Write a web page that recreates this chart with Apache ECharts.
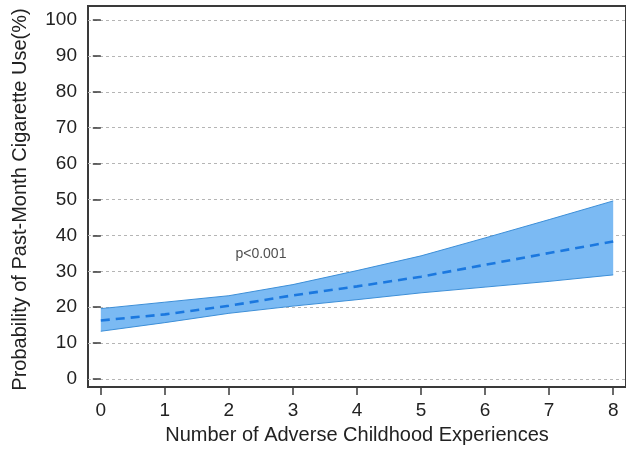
<!DOCTYPE html>
<html>
<head>
<meta charset="utf-8">
<script src="https://cdn.jsdelivr.net/npm/echarts@6/dist/echarts.min.js"></script>
<style>
  html, body { margin: 0; padding: 0; background: #fff; }
  #chart { width: 626px; height: 450px; }
</style>
</head>
<body>
<div id="chart"></div>
<script>
// Predicted probability of past-month cigarette use by ACE count
const aceCounts = [0, 1, 2, 3, 4, 5, 6, 7, 8];
const predicted = [16.3, 18.0, 20.4, 23.3, 25.8, 28.5, 31.8, 35.1, 38.3];
const ciLower   = [13.3, 15.7, 18.3, 20.3, 22.1, 24.0, 25.6, 27.2, 29.0];
const ciUpper   = [19.6, 21.4, 23.2, 26.3, 30.2, 34.3, 39.3, 44.4, 49.6];
const yTicks = [0, 10, 20, 30, 40, 50, 60, 70, 80, 90, 100];
const xTicks = [0, 1, 2, 3, 4, 5, 6, 7, 8];
const annotation = { x: 2.5, y: 34.8, text: 'p<0.001' };

const FONT = "'Liberation Sans', Arial, Helvetica, sans-serif";
const pairs = (ys) => aceCounts.map((x, i) => [x, ys[i]]);

// Confidence band: one polygon along the upper bound, back along the lower bound
function renderBand(params, api) {
  const pts = [];
  aceCounts.forEach((x, i) => pts.push(api.coord([x, ciUpper[i]])));
  for (let i = aceCounts.length - 1; i >= 0; i--) pts.push(api.coord([aceCounts[i], ciLower[i]]));
  return {
    type: 'polygon',
    shape: { points: pts },
    style: { fill: '#7bbaf3', stroke: null }
  };
}

const chart = echarts.init(document.getElementById('chart'), null, { renderer: 'canvas' });
chart.setOption({
  backgroundColor: '#fff',
  animation: false,
  grid: [
    // plotting area, 0–100 %
    { left: 88, right: -5, top: 20, bottom: 71, show: false },
    // outer frame of the plot region
    { left: 88, right: -5, top: 6, bottom: 58, show: true,
      borderColor: '#3a3a3a', borderWidth: 2, backgroundColor: 'transparent' }
  ],
  xAxis: [
    { gridIndex: 0, type: 'value', min: -0.2, max: 8.2, show: false },
    {
      gridIndex: 1, type: 'value', min: -0.2, max: 8.2,
      axisLine: { show: true, lineStyle: { color: '#3a3a3a', width: 2 } },
      axisTick: { show: true, customValues: xTicks, length: 8, lineStyle: { color: '#3a3a3a', width: 1.5 } },
      axisLabel: { show: true, customValues: xTicks, margin: 14, fontSize: 19, color: '#222', fontFamily: FONT },
      splitLine: { show: false },
      name: 'Number of Adverse Childhood Experiences',
      nameLocation: 'middle', nameGap: 35,
      nameTextStyle: { fontSize: 20, color: '#222', fontFamily: FONT }
    }
  ],
  yAxis: [
    {
      gridIndex: 0, type: 'value', min: 0, max: 100, interval: 10,
      axisLine: { show: false },
      axisTick: { show: true, length: 8, lineStyle: { color: '#3a3a3a', width: 1.5 } },
      axisLabel: { margin: 11, fontSize: 19, color: '#222', fontFamily: FONT },
      splitLine: { show: true, lineStyle: { color: '#b5b5b5', width: 1, type: [3, 3] } },
      name: 'Probability of Past-Month Cigarette Use(%)',
      nameLocation: 'middle', nameGap: 58,
      nameTextStyle: { fontSize: 20, color: '#222', fontFamily: FONT }
    },
    { gridIndex: 1, type: 'value', min: 0, max: 1, show: false }
  ],
  series: [
    {
      name: 'ci', type: 'custom', xAxisIndex: 0, yAxisIndex: 0,
      data: [[aceCounts[0], ciLower[0]]], renderItem: renderBand, silent: true, z: 2
    },
    {
      name: 'upper', type: 'line', xAxisIndex: 0, yAxisIndex: 0,
      data: pairs(ciUpper), symbol: 'none', silent: true, z: 3,
      lineStyle: { color: '#3d8fd8', width: 1 }
    },
    {
      name: 'lower', type: 'line', xAxisIndex: 0, yAxisIndex: 0,
      data: pairs(ciLower), symbol: 'none', silent: true, z: 3,
      lineStyle: { color: '#3d8fd8', width: 1 }
    },
    {
      name: 'predicted', type: 'line', xAxisIndex: 0, yAxisIndex: 0,
      data: pairs(predicted), symbol: 'none', silent: true, z: 5,
      lineStyle: { color: '#1b78df', width: 2.6, type: [9, 6] }
    },
    {
      name: 'note', type: 'scatter', xAxisIndex: 0, yAxisIndex: 0,
      data: [[annotation.x, annotation.y]], symbolSize: 0, silent: true,
      label: { show: true, position: 'inside', formatter: annotation.text,
               fontSize: 14, color: '#222', fontFamily: FONT }
    }
  ]
});
</script>
</body>
</html>
